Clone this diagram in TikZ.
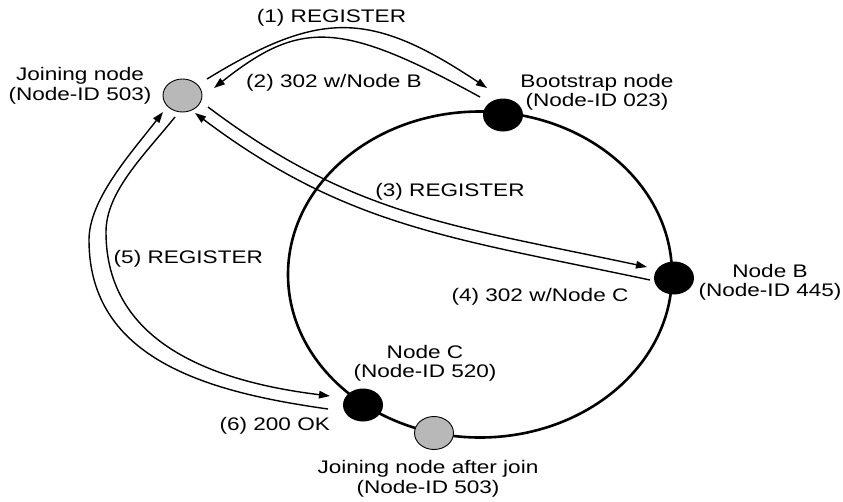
\documentclass[tikz,border=0pt]{standalone}
\usepackage{fontspec}
\setmainfont{Liberation Sans}[FakeStretch=1.24]
\usetikzlibrary{arrows.meta,calc,shapes.geometric}
\begin{document}
\begin{tikzpicture}[x=1pt,y=1pt,
  lbl/.style={font=\fontsize{18.2}{19.5}\selectfont, text=black, inner sep=0pt, align=center, anchor=base},
  peer/.style={ellipse, fill=black, minimum width=40pt, minimum height=33pt, inner sep=0pt},
  joiner/.style={ellipse, draw=black, line width=0.9pt, fill=black!28, minimum width=39pt, minimum height=33pt, inner sep=0pt},
  msg/.style={line width=1.4pt, -{Triangle[length=11pt,width=7.5pt]}},
  ring/.style={line width=2.6pt}]
\useasboundingbox (0,0) rectangle (843,-501);
% ring
\draw[ring] (480,-274.5) ellipse [x radius=192pt, y radius=163pt];
% nodes
\node[joiner] (J) at (182.5,-95.5) {};
\node[peer] (BS) at (503,-115) {};
\node[peer] (NB) at (674,-278) {};
\node[peer] (NC) at (363,-405) {};
\node[joiner] (JA) at (434,-433) {};
% labels (two-line labels are anchored at the baseline of their last line)
\node[lbl] (tJ) at (80,-100) {Joining node\\(Node-ID 503)};
\node[lbl] (tBS) at (597,-106.5) {Bootstrap node\\(Node-ID 023)};
\node[lbl] (tNB) at (770,-296.5) {Node B\\(Node-ID 445)};
\node[lbl] (tNC) at (425,-377.5) {Node C\\(Node-ID 520)};
\node[lbl] (tJA) at (428,-493) {Joining node after join\\(Node-ID 503)};
\node[lbl] (m1) at (331.5,-22.5) {(1) REGISTER};
\node[lbl] (m2) at (334,-87) {(2) 302 w/Node B};
\node[lbl] (m3) at (450,-196.7) {(3) REGISTER};
\node[lbl] (m4) at (540,-301) {(4) 302 w/Node C};
\node[lbl] (m5) at (188.3,-263.3) {(5) REGISTER};
\node[lbl] (m6) at (274.7,-430) {(6) 200 OK};
% waypoints
\coordinate (w5) at (106,-232);
\coordinate (w6) at (89,-240);
% messages
\draw[msg] ($(J)+(24.5,16.5)$) .. controls +(113,69) and +(-117,78) .. ($(BS)+(-16,27)$);
\draw[msg] ($(BS)+(-23,18)$) .. controls +(-140,77) and +(86,68) .. ($(J)+(31.5,7.5)$);
\draw[msg] ($(J)+(25.5,-11.5)$) .. controls +(-37:180) and +(168:200) .. ($(NB)+(-27,11)$);
\draw[msg] ($(NB)+(-24,-2)$) .. controls +(168:200) and +(-37:190) .. ($(J)+(12.5,-17.5)$);
\draw[msg] ($(J)+(-7.5,-21.5)$) .. controls +(-129:50) and +(90:40) .. (w5)
   .. controls +(-90:110) and +(173:120) .. ($(NC)+(-33,9)$);
\draw[msg] ($(NC)+(-35,-4)$) .. controls +(172:120) and +(-90:120) .. (w6)
   .. controls +(90:40) and +(-128:55) .. ($(J)+(-19.5,-16.5)$);
\end{tikzpicture}
\end{document}
